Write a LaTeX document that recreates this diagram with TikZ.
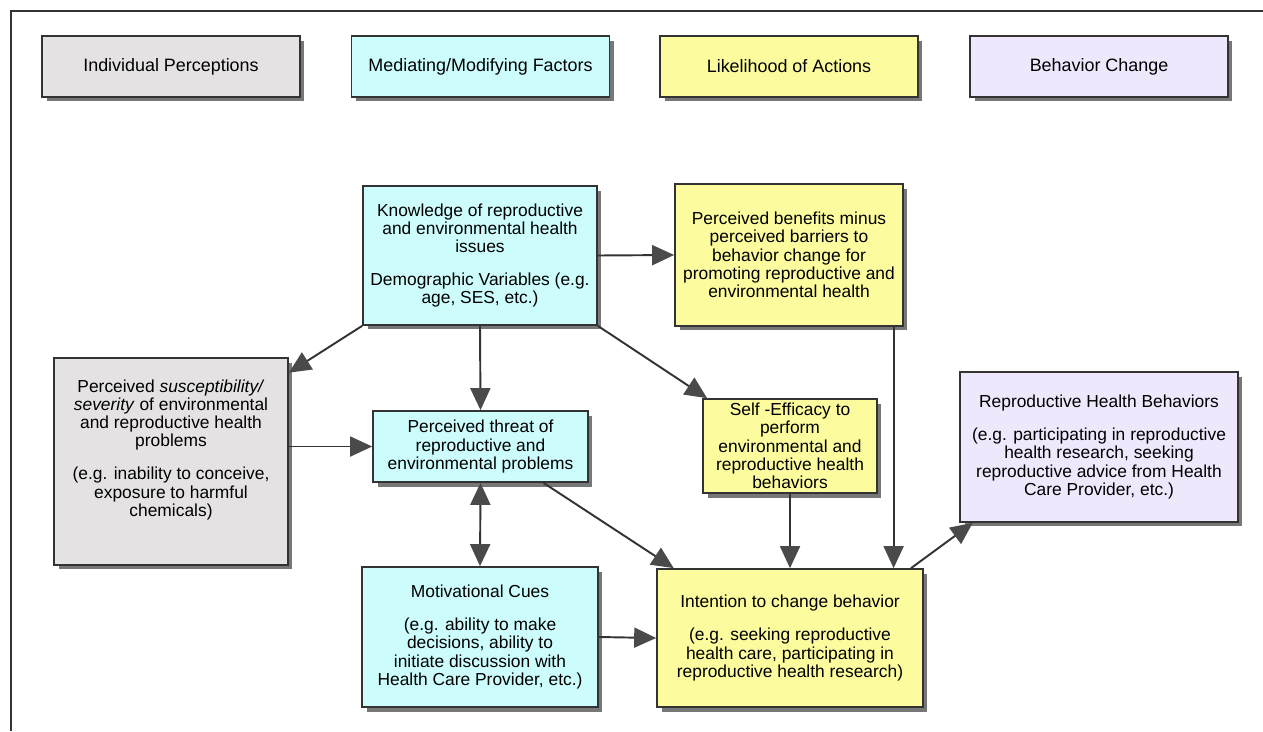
\documentclass[tikz,border=0pt]{standalone}
\usepackage{fontspec}
\setmainfont{Liberation Sans}
\usetikzlibrary{shadows,arrows.meta,calc}

\definecolor{boxgray}{HTML}{E5E2E3}
\definecolor{boxcyan}{HTML}{CCFCFC}
\definecolor{boxyellow}{HTML}{FCFC9E}
\definecolor{boxlilac}{HTML}{EFE7FB}
\definecolor{linegray}{HTML}{333333}
\definecolor{tipgray}{HTML}{4A4A4A}
\definecolor{shadowgray}{HTML}{777777}

\begin{document}
\begin{tikzpicture}[x=0.02cm,y=-0.02cm,font=\fontsize{9.9}{10.4}\selectfont,
    >={Triangle[length=0.44cm,width=0.4cm,color=tipgray]}]
  \tikzstyle{box}=[draw=linegray,line width=1pt,align=center,inner sep=0pt,
    drop shadow={shadow xshift=0.09cm,shadow yshift=-0.09cm,fill=shadowgray,opacity=1}]
  \tikzstyle{head}=[box,minimum width=5.16cm,minimum height=1.22cm,font=\fontsize{10.2}{12}\selectfont]
  \tikzstyle{arr}=[draw=linegray,line width=1.1pt,->]
  \useasboundingbox (0,0) rectangle (1263,731);
  \draw[line width=1.4pt,linegray] (11,731) -- (11,11) -- (1263,11);

  \node[head,fill=boxgray] (hind) at (171,66.5) {Individual Perceptions};
  \node[head,fill=boxcyan] (hmed) at (480.5,66.5) {Mediating/Modifying Factors};
  \node[head,fill=boxyellow] (hlik) at (789,66.5) {Likelihood of Actions};
  \node[head,fill=boxlilac] (hbeh) at (1099,66.5) {Behavior Change};

  \node[box,fill=boxcyan,minimum width=4.68cm,minimum height=2.78cm] (know) at (480,255.5)
    {Knowledge of reproductive\\ and environmental health\\ issues\\[8.4pt]
     Demographic Variables (e.g.\\ age, SES, etc.)};
  \node[box,fill=boxyellow,minimum width=4.56cm,minimum height=2.84cm] (benef) at (789,255)
    {Perceived benefits minus\\ perceived barriers to\\ behavior change for\\
     promoting reproductive and\\ environmental health};
  \node[box,fill=boxgray,minimum width=4.68cm,minimum height=4.14cm] (suscep) at (171,461.5) {};
  \node[anchor=north,align=center,inner sep=0pt] (susceptext) at ([yshift=-0.44cm]suscep.north)
    {Perceived \textit{susceptibility/}\\ \textit{severity} of environmental\\
     and reproductive health\\ problems\\[8.4pt] (e.g. inability to conceive,\\
     exposure to harmful\\ chemicals)};
  \node[box,fill=boxcyan,minimum width=4.3cm,minimum height=1.42cm] (threat) at (480.5,446.5)
    {Perceived threat of\\ reproductive and\\ environmental problems};
  \node[box,fill=boxyellow,minimum width=3.48cm,minimum height=1.88cm] (selfeff) at (790,446)
    {Self -Efficacy to\\ perform\\ environmental and\\ reproductive health\\ behaviors};
  \node[box,fill=boxlilac,minimum width=5.56cm,minimum height=3cm] (rhb) at (1099,447)
    {Reproductive Health Behaviors\\[8.4pt] (e.g. participating in reproductive\\
     health research, seeking\\ reproductive advice from Health\\ Care Provider, etc.)};
  \node[box,fill=boxcyan,minimum width=4.72cm,minimum height=2.8cm] (motiv) at (480,637)
    {Motivational Cues\\[8.4pt] (e.g. ability to make\\ decisions, ability to\\
     initiate discussion with\\ Health Care Provider, etc.)};
  \node[box,fill=boxyellow,minimum width=5.32cm,minimum height=2.76cm] (intent) at (790,638)
    {Intention to change behavior\\[8.4pt] (e.g. seeking reproductive\\
     health care, participating in\\ reproductive health research)};

  \draw[arr] (know.east) -- (benef.west);
  \draw[arr] (know.south west) -- (suscep.37);
  \draw[arr] (know.south) -- (threat.north);
  \draw[arr] (know.south east) -- (selfeff.150);
  \draw[arr] (suscep.east |- threat.west) -- (threat.west);
  \draw[arr,<->] (threat.south) -- (motiv.north);
  \draw[arr] (threat.-30) -- (intent.149);
  \draw[arr] (selfeff.south) -- (selfeff.south |- intent.north);
  \draw[arr] (intent.34 |- benef.south) -- (intent.34);
  \draw[arr] (intent.30) -- (rhb.211);
  \draw[arr] (motiv.east) -- (intent.west);
\end{tikzpicture}
\end{document}
